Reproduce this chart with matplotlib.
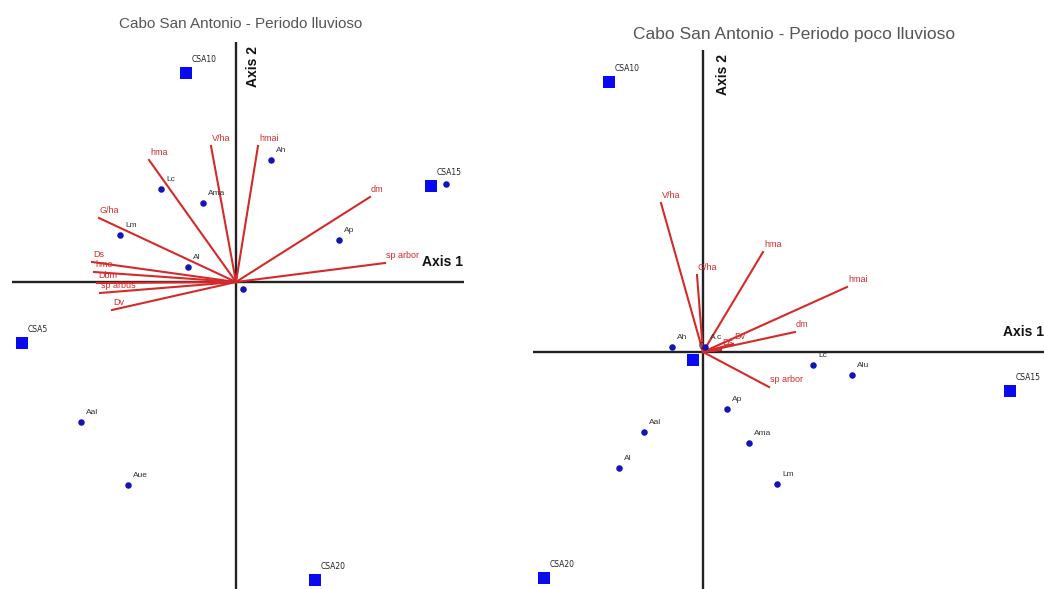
import matplotlib
matplotlib.use("Agg")
import matplotlib.pyplot as plt

# ---------------- Periodo lluvioso (rainy season) ----------------
wet_sites = ["CSA10", "CSA15", "CSA5", "CSA20"]
wet_site_x = [-0.50, 1.95, -2.14, 0.79]
wet_site_y = [2.09, 0.96, -0.61, -2.98]

wet_species = ["Ah", "Lc", "Ama", "Lm", "Al", "", "Ap", "", "Aal", "Aue"]
wet_species_x = [0.35, -0.75, -0.33, -1.16, -0.48, 0.07, 1.03, 2.10, -1.55, -1.08]
wet_species_y = [1.22, 0.93, 0.79, 0.47, 0.15, -0.07, 0.42, 0.98, -1.40, -2.03]

wet_vars = ["hma", "V/ha", "hmai", "dm", "sp arbor", "G/ha", "Ds", "hme", "Dbm", "sp arbus", "Dv"]
wet_var_x = [-0.87, -0.25, 0.22, 1.34, 1.49, -1.37, -1.44, -1.42, -1.39, -1.36, -1.24]
wet_var_y = [1.22, 1.36, 1.36, 0.85, 0.19, 0.64, 0.20, 0.10, -0.01, -0.11, -0.28]

# ---------------- Periodo poco lluvioso (dry season) ----------------
dry_sites = ["CSA10", "CSA15", "CSA20", "C"]
dry_site_x = [-0.94, 3.07, -1.59, -0.10]
dry_site_y = [2.70, -0.39, -2.26, -0.08]

dry_species = ["Ah", "Lc", "Alu", "Ap", "Aal", "Al", "Ama", "Lm", "A.c"]
dry_species_x = [-0.31, 1.10, 1.49, 0.24, -0.59, -0.84, 0.46, 0.74, 0.02]
dry_species_y = [0.05, -0.13, -0.23, -0.57, -0.80, -1.16, -0.91, -1.32, 0.05]

dry_vars = ["V/ha", "G/ha", "hma", "hmai", "dm", "sp arbor", "Dv", "Ds"]
dry_var_x = [-0.42, -0.06, 0.60, 1.44, 0.92, 0.66, 0.30, 0.18]
dry_var_y = [1.49, 0.77, 1.00, 0.65, 0.20, -0.35, 0.08, 0.02]

RED = "#d42a2a"
SITE_BLUE = "#0a0af0"
SP_BLUE = "#1414b4"
AXIS_COL = "#222222"
NARROW = ["Liberation Sans Narrow", "Liberation Sans", "DejaVu Sans"]

fig = plt.figure(figsize=(10.44, 5.89), dpi=100)
fig.patch.set_facecolor("white")


def draw_panel(ax, title, title_size, title_xy,
               sites, sx, sy, species, spx, spy, vars_, vx, vy,
               hline, vline, ax1_xy, ax2_xy):
    ax.set_axis_off()
    ax.set_aspect("equal")
    # ordination axes
    ax.plot(hline, [0, 0], color=AXIS_COL, lw=1.7, zorder=1, solid_capstyle="butt")
    ax.plot([0, 0], vline, color=AXIS_COL, lw=1.7, zorder=1, solid_capstyle="butt")
    # environmental vectors
    for name, x, y in zip(vars_, vx, vy):
        ax.plot([0, x], [0, y], color=RED, lw=1.5, zorder=2)
        ax.annotate(name, (x, y), xytext=(1, 3), textcoords="offset pixels",
                    ha="left", va="bottom", fontsize=6.5, color=RED,
                    family=NARROW, zorder=4)
    # species scores
    ax.scatter(spx, spy, s=22, color=SP_BLUE, zorder=3, linewidths=0)
    for name, x, y in zip(species, spx, spy):
        if name:
            ax.annotate(name, (x, y), xytext=(5, 6), textcoords="offset pixels",
                        ha="left", va="bottom", fontsize=6, color="#333333",
                        family=NARROW, zorder=4)
    # sample sites
    ax.scatter(sx, sy, s=80, marker="s", color=SITE_BLUE, zorder=3, linewidths=0)
    for name, x, y in zip(sites, sx, sy):
        ax.annotate(name, (x, y), xytext=(6, 9), textcoords="offset pixels",
                    ha="left", va="bottom", fontsize=5.5, color="#222222",
                    zorder=4)
    ax.text(*ax1_xy, "Axis 1", fontsize=10, fontweight="bold", color="#111111",
            ha="left", va="center", family=["Liberation Sans", "DejaVu Sans"])
    ax.text(*ax2_xy, "Axis 2", fontsize=10, fontweight="bold", color="#111111",
            ha="center", va="center", rotation=90,
            family=["Liberation Sans", "DejaVu Sans"])
    ax.text(*title_xy, title, fontsize=title_size, color="#555555",
            ha="center", va="center", family=["Liberation Sans", "DejaVu Sans"])


# left panel: 480 px wide, origin at pixel (236, 282); 100 px per unit
axL = fig.add_axes([0, 0, 480 / 1044, 1])
axL.set_xlim(-2.36, 2.44)
axL.set_ylim(-3.07, 2.82)
draw_panel(axL, "Cabo San Antonio - Periodo lluvioso", 11, (0.05, 2.58),
           wet_sites, wet_site_x, wet_site_y,
           wet_species, wet_species_x, wet_species_y,
           wet_vars, wet_var_x, wet_var_y,
           hline=[-2.24, 2.28], vline=[-3.07, 2.40],
           ax1_xy=(1.86, 0.20), ax2_xy=(0.17, 2.15))

# right panel: 524 px wide, origin at pixel (703, 352)
axR = fig.add_axes([520 / 1044, 0, 524 / 1044, 1])
axR.set_xlim(-1.83, 3.41)
axR.set_ylim(-2.37, 3.52)
draw_panel(axR, "Cabo San Antonio - Periodo poco lluvioso", 12.5, (0.91, 3.18),
           dry_sites, dry_site_x, dry_site_y,
           dry_species, dry_species_x, dry_species_y,
           dry_vars, dry_var_x, dry_var_y,
           hline=[-1.70, 3.41], vline=[-2.37, 3.02],
           ax1_xy=(3.00, 0.20), ax2_xy=(0.20, 2.77))

fig.savefig("out.png", dpi=100, facecolor="white")
